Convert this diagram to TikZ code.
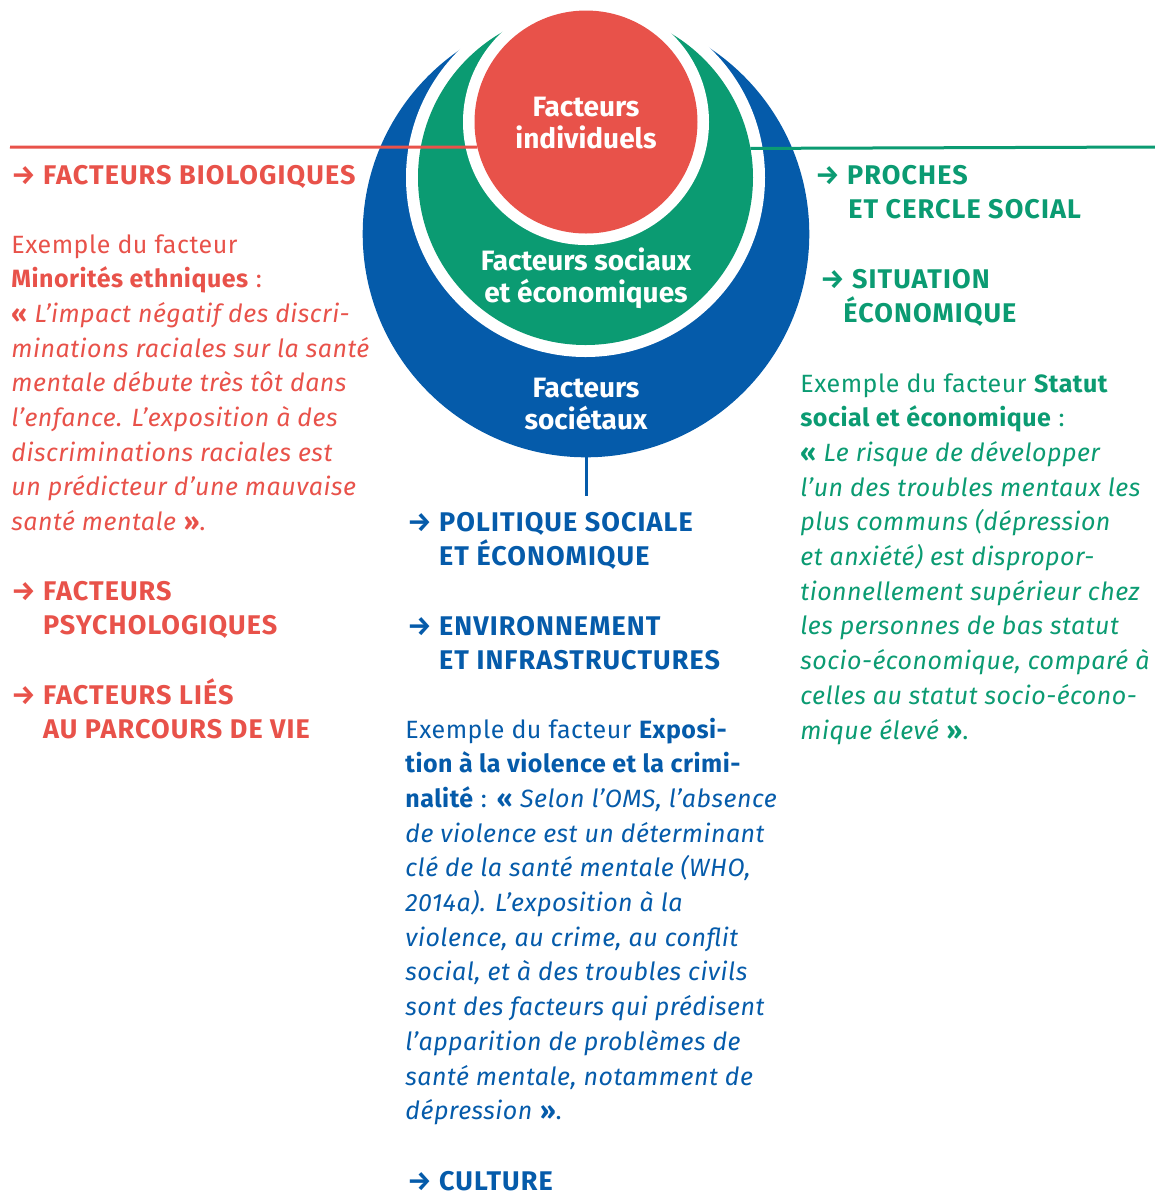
\documentclass[tikz,border=0pt]{standalone}
\usepackage{fontspec}
\setmainfont{Fira Sans}
\usetikzlibrary{positioning}
\definecolor{indivred}{HTML}{E8524A}
\definecolor{socgreen}{HTML}{0B9B72}
\definecolor{societblue}{HTML}{055BAA}

\tikzset{
  disc/.style={circle,inner sep=0pt,outer sep=0pt},
  disclabel/.style={text=white,align=center,inner sep=0pt,font=\bfseries\fontsize{14}{16}\selectfont},
  % multi-line nodes: the base anchor sits on the last line
  headline/.style={anchor=base west,inner sep=0pt,align=left,
    font=\bfseries\fontsize{13.5}{17.35}\selectfont\addfontfeatures{LetterSpace=4}},
  quotebox/.style={anchor=base west,inner sep=0pt,align=left,
    font=\fontsize{12.5}{17.35}\selectfont\addfontfeatures{LetterSpace=2}},
  linkline/.style={line width=1.5pt},
}

\begin{document}
\begin{tikzpicture}[x=0.5pt,y=-0.5pt]
  \useasboundingbox (0,0) rectangle (1155,1191);

  % nested discs, each with a white halo
  \node[disc,fill=societblue,minimum size=223.3pt] (societ) at (586,234) {};
  \fill[white] (585.5,177.5) circle (89.75pt);
  \node[disc,fill=socgreen,minimum size=167.5pt] (soc) at (585.5,177.5) {};
  \fill[white] (586,122) circle (61.5pt);
  \node[disc,fill=indivred,minimum size=111.5pt] (ind) at (586,122) {};

  \node[disclabel] (indtext) at (586,123) {Facteurs\\individuels};
  \node[disclabel] (soctext) at (586,278) {Facteurs sociaux\\et économiques};
  \node[disclabel] (societtext) at (586,404) {Facteurs\\sociétaux};

  % connectors to the three columns
  \coordinate (bioend) at (10,147);
  \coordinate (procheend) at (1155,147);
  \coordinate (politend) at (586,496);
  \draw[linkline,indivred] (bioend) -- (ind.193);
  \draw[linkline,socgreen] (soc.10.5) -- (procheend);
  \draw[linkline,societblue] (societ.south) -- (politend);

  % left column
  \begin{scope}[indivred]
    \node[headline] (bio) at (11,184) {→ FACTEURS BIOLOGIQUES};
    \node[quotebox] (minorites) at (11,530.6) {Exemple du facteur\\
      \textbf{Minorités ethniques} :\\
      \textbf{«} \textit{L’impact négatif des discri-}\\
      \textit{minations raciales sur la santé}\\
      \textit{mentale débute très tôt dans}\\
      \textit{l’enfance. L’exposition à des}\\
      \textit{discriminations raciales est}\\
      \textit{un prédicteur d’une mauvaise}\\
      \textit{santé mentale} \textbf{»}.};
    \node[headline] (psycho) at (11,634.7) {→ FACTEURS\\\phantom{→ }PSYCHOLOGIQUES};
    \node[headline] (parcours) at (11,738.7) {→ FACTEURS LIÉS\\\phantom{→ }AU PARCOURS DE VIE};
  \end{scope}

  % middle column
  \begin{scope}[societblue]
    \node[headline] (politique) at (407,565.7) {→ POLITIQUE SOCIALE\\\phantom{→ }ET ÉCONOMIQUE};
    \node[headline] (environ) at (407,669.7) {→ ENVIRONNEMENT\\\phantom{→ }ET INFRASTRUCTURES};
    \node[quotebox] (violence) at (405,1119.7) {Exemple du facteur \textbf{Exposi-}\\
      \textbf{tion à la violence et la crimi-}\\
      \textbf{nalité} : \textbf{«} \textit{Selon l’OMS, l’absence}\\
      \textit{de violence est un déterminant}\\
      \textit{clé de la santé mentale (WHO,}\\
      \textit{2014a). L’exposition à la}\\
      \textit{violence, au crime, au conflit}\\
      \textit{social, et à des troubles civils}\\
      \textit{sont des facteurs qui prédisent}\\
      \textit{l’apparition de problèmes de}\\
      \textit{santé mentale, notamment de}\\
      \textit{dépression} \textbf{»}.};
    \node[headline] (culture) at (407,1190) {→ CULTURE};
  \end{scope}

  % right column
  \begin{scope}[socgreen]
    \node[headline] (proches) at (815,218.7) {→ PROCHES\\\hspace*{16.5pt}ET CERCLE SOCIAL};
    \node[headline] (situation) at (820,322.7) {→ SITUATION\\\hspace*{11.5pt}ÉCONOMIQUE};
    \node[quotebox] (statut) at (800,739) {Exemple du facteur \textbf{Statut}\\
      \textbf{social et économique} :\\
      \textbf{«} \textit{Le risque de développer}\\
      \textit{l’un des troubles mentaux les}\\
      \textit{plus communs (dépression}\\
      \textit{et anxiété) est dispropor-}\\
      \textit{tionnellement supérieur chez}\\
      \textit{les personnes de bas statut}\\
      \textit{socio-économique, comparé à}\\
      \textit{celles au statut socio-écono-}\\
      \textit{mique élevé} \textbf{»}.};
  \end{scope}
\end{tikzpicture}
\end{document}
